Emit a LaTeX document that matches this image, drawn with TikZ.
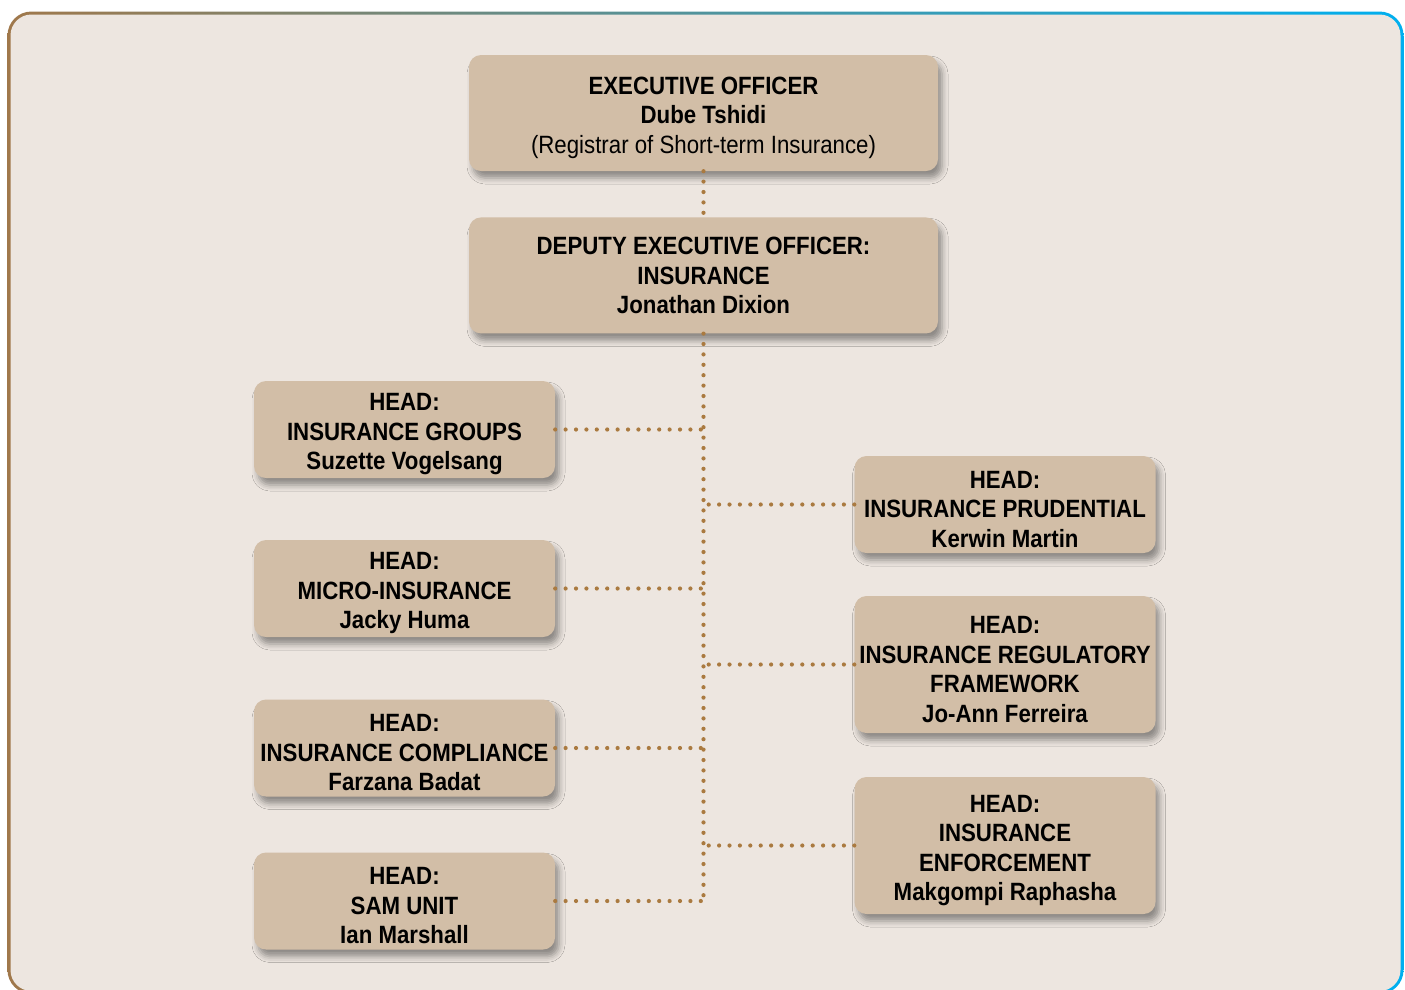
\documentclass[tikz,border=0pt]{standalone}
\usepackage{fontspec}
\setmainfont{Liberation Sans}[FakeStretch=0.89]
\usetikzlibrary{positioning}
\usetikzlibrary{shadows.blur}
\definecolor{boxtan}{RGB}{210,190,167}
\definecolor{paper}{RGB}{237,230,224}
\definecolor{dotbrown}{RGB}{170,122,64}
\definecolor{rimbrown}{RGB}{160,120,75}
\definecolor{rimnavy}{RGB}{0,35,95}
\definecolor{rimcyan}{RGB}{0,175,239}
\newcommand{\lift}{\rule{0pt}{27pt}}
\begin{document}
\begin{tikzpicture}[x=1pt, y=-1pt,
	office/.style={fill=boxtan, rounded corners=12pt, align=center, inner sep=0pt,
		font=\bfseries\fontsize{25}{29.5}\selectfont,
		blur shadow={shadow xshift=4pt, shadow yshift=-7pt, shadow blur radius=6pt, shadow opacity=40}},
	head/.style={office, minimum width=301pt, minimum height=97pt},
	link/.style={dotbrown, line width=4.2pt, line cap=round, dash pattern=on 0pt off 10.4pt}]
\useasboundingbox (0,0) rectangle (1405,989);
\shade[left color=rimbrown, middle color=rimnavy, right color=rimcyan, rounded corners=24pt] (7.5,11.5) rectangle (1403.5,994);
\fill[paper, rounded corners=21pt] (10.5,14.5) rectangle (1400.5,991);

\node[office, minimum width=469pt, minimum height=116pt] (exec) at (703.5,113) {\lift EXECUTIVE OFFICER\\Dube Tshidi\\\mdseries(Registrar of Short-term Insurance)};
\node[office, minimum width=469pt, minimum height=116pt, below=46pt of exec] (deputy) {DEPUTY EXECUTIVE OFFICER:\\INSURANCE\\Jonathan Dixion};

\node[head] (groups) at (404.5,429.5) {\lift HEAD:\\INSURANCE GROUPS\\Suzette Vogelsang};
\node[head] (micro) at (404.5,588.5) {\lift HEAD:\\MICRO-INSURANCE\\Jacky Huma};
\node[head] (compliance) at (404.5,748) {\lift HEAD:\\INSURANCE COMPLIANCE\\Farzana Badat};
\node[head] (sam) at (404.5,901) {\lift HEAD:\\SAM UNIT\\Ian Marshall};
\node[head] (prudential) at (1005,504.5) {\lift HEAD:\\INSURANCE PRUDENTIAL\\Kerwin Martin};
\node[head, minimum height=137pt] (framework) at (1005,664.5) {\lift HEAD:\\INSURANCE REGULATORY\\FRAMEWORK\\Jo-Ann Ferreira};
\node[head, minimum height=137pt] (enforcement) at (1005,845.5) {\lift HEAD:\\INSURANCE\\ENFORCEMENT\\Makgompi Raphasha};

\draw[link] (exec) -- (deputy);
\draw[link] (deputy.south) -- (deputy.south |- sam.east);
\foreach \n in {groups, micro, compliance, sam, prudential, framework, enforcement} {
	\draw[link] (\n) -- (\n -| deputy.south);
	};
\end{tikzpicture}
\end{document}
